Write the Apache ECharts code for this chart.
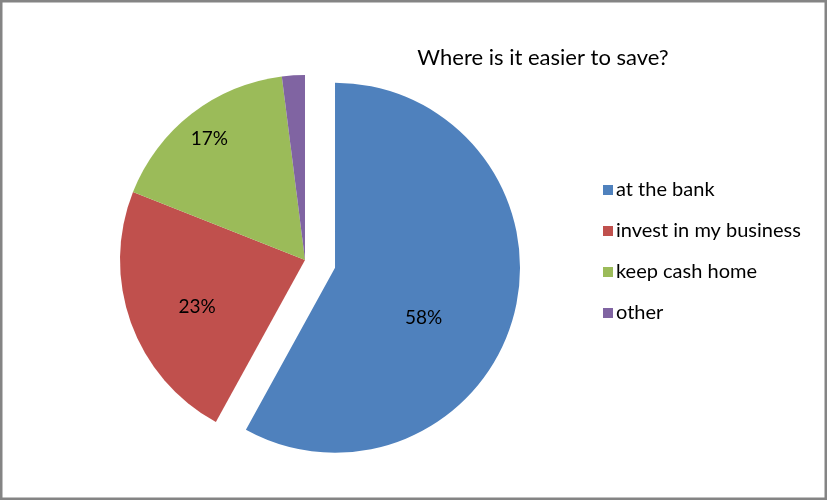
<!DOCTYPE html>
<html><head><meta charset="utf-8">
<script src="https://cdn.jsdelivr.net/npm/echarts@6/dist/echarts.min.js"></script>
<style>html,body{margin:0;padding:0;background:#fff}#c{width:827px;height:500px}</style>
</head><body><div id="c"></div>
<script>
const categories = ['at the bank', 'invest in my business', 'keep cash home', 'other'];
const values = [58, 23, 17, 2];
const colors = ['#4F81BD', '#C0504D', '#9BBB59', '#8064A2'];
const labelOffsets = [[-4, 26], [-18, 15], [-37, -46], [0, 0]];

const chart = echarts.init(document.getElementById('c'), null, {renderer: 'canvas'});
chart.setOption({
  animation: false,
  backgroundColor: '#fff',
  title: {
    text: 'Where is it easier to save?',
    left: 538, top: 42, textAlign: 'center',
    textStyle: {fontFamily: 'Lato', fontSize: 22, fontWeight: 'normal', color: '#000'}
  },
  legend: {
    orient: 'vertical', left: 598, top: 175,
    itemWidth: 10, itemHeight: 10, itemGap: 21, icon: 'rect',
    selectedMode: false,
    textStyle: {fontFamily: 'Lato', fontSize: 20, color: '#000', padding: [0, 0, 0, -2]},
    data: categories
  },
  graphic: [{
    type: 'rect', shape: {x: 1, y: 1, width: 825, height: 498},
    style: {fill: 'none', stroke: '#848484', lineWidth: 3}, silent: true, z: 100
  }],
  series: [{
    type: 'pie',
    center: [305, 260], radius: 185,
    startAngle: 90, clockwise: true,
    selectedMode: 'single', selectedOffset: 31,
    avoidLabelOverlap: false,
    label: {position: 'inside', fontFamily: 'Lato', fontSize: 19, color: '#000',
      formatter: p => p.value + '%'},
    labelLine: {show: false},
    emphasis: {disabled: true},
    data: categories.map((n, i) => ({
      name: n, value: values[i], selected: i === 0,
      itemStyle: {color: colors[i]},
      label: i === 3 ? {show: false} : {offset: labelOffsets[i]},
      select: {label: i === 3 ? {show: false} : {offset: labelOffsets[i]}}
    }))
  }]
});
</script></body></html>
